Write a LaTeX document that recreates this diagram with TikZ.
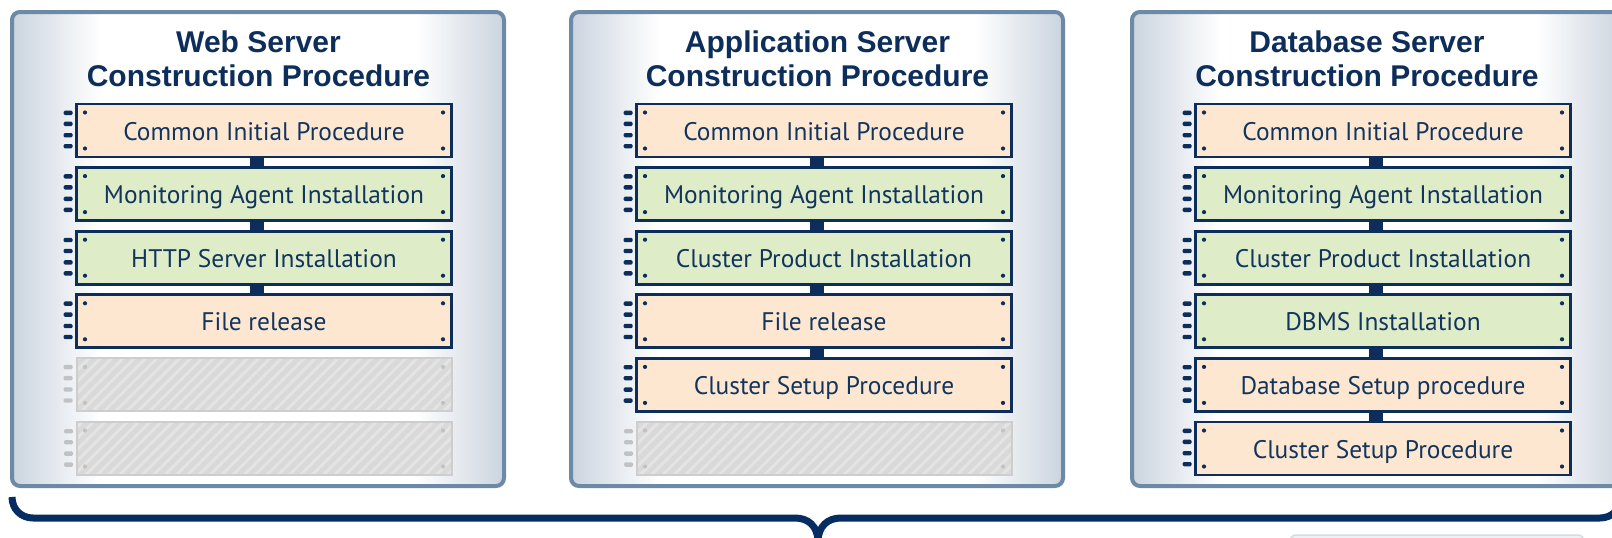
\documentclass[tikz,border=0pt]{standalone}
\usepackage{fontspec}
\setmainfont{PT Sans}
\newfontfamily\headfont{Liberation Sans}
\usetikzlibrary{patterns.meta}

\definecolor{navy}{HTML}{0D2E5A}
\definecolor{textnavy}{HTML}{12355E}
\definecolor{bracenavy}{HTML}{062D62}
\definecolor{panelrim}{HTML}{6C89A5}
\definecolor{paneledge}{HTML}{CBD4DF}
\definecolor{peach}{HTML}{FDE7D1}
\definecolor{sage}{HTML}{DFECC8}
\definecolor{blankfill}{HTML}{D9D9D9}
\definecolor{blankstripe}{HTML}{E4E4E4}
\definecolor{blankrim}{HTML}{CDCDCD}
\definecolor{blankpin}{HTML}{C2C2C2}
\definecolor{tabrim}{HTML}{D3DBE3}
\definecolor{tabfill}{HTML}{EEF2F6}

% panel background: blue-grey at both sides, white in the middle
\pgfdeclarehorizontalshading{panelfade}{100bp}{color(0bp)=(paneledge); color(25bp)=(paneledge); color(34bp)=(white); color(66bp)=(white); color(75bp)=(paneledge); color(100bp)=(paneledge)}

\tikzset{
  panel/.style={draw=panelrim, line width=4pt, rounded corners=8pt, shading=panelfade,
    minimum width=492pt, minimum height=474pt, inner sep=0pt},
  paneltitle/.style={font=\headfont\bfseries\fontsize{30}{34}\selectfont, text=navy,
    align=center, inner sep=0pt},
  corners/.style={path picture={
    \fill[#1] ([shift={(8.5pt,-8.5pt)}]path picture bounding box.north west) circle (2.1pt);
    \fill[#1] ([shift={(-8.5pt,-8.5pt)}]path picture bounding box.north east) circle (2.1pt);
    \fill[#1] ([shift={(8.5pt,8.5pt)}]path picture bounding box.south west) circle (2.1pt);
    \fill[#1] ([shift={(-8.5pt,8.5pt)}]path picture bounding box.south east) circle (2.1pt);}},
  slot/.style={minimum width=375pt, minimum height=53pt, inner sep=0pt,
    font=\fontsize{25.4}{29}\selectfont, text height=19pt, text depth=0pt},
  procbox/.style={slot, draw=navy, line width=2.8pt, fill=#1, text=textnavy, corners=navy},
  blankbox/.style={slot, draw=blankrim, line width=2pt, preaction={fill=blankfill},
    pattern={Lines[angle=45, distance=8pt, line width=3pt]}, pattern color=blankstripe,
    corners=blankpin},
  link/.style={draw=navy, line width=14pt},
  brace/.style={draw=bracenavy, line width=7pt},
}

\begin{document}
\begin{tikzpicture}[x=1pt, y=-1pt]
\useasboundingbox (0,0) rectangle (1612,538);
\clip (0,0) rectangle (1612,538);
\fill[white] (0,0) rectangle (1612,538);

% ---------- panels ----------
\node[panel] (pweb) at (258,249) {};
\node[panel] (papp) at (817,249) {};
\node[panel] (pdb)  at (1378,249) {};

\node[paneltitle] (tweb) at (258.5,59) {Web Server\\Construction Procedure};
\node[paneltitle] (tapp) at (817.5,59) {Application Server\\Construction Procedure};
\node[paneltitle] (tdb)  at (1367,59) {Database Server\\Construction Procedure};

% ---------- web server steps ----------
\node[procbox=peach] (w1) at (264,130.5) {Common Initial Procedure};
\node[procbox=sage]  (w2) at (264,194.1) {Monitoring Agent Installation};
\node[procbox=sage]  (w3) at (264,257.7) {HTTP Server Installation};
\node[procbox=peach] (w4) at (264,321.3) {File release};
\node[blankbox]      (w5) at (264,384.9) {};
\node[blankbox]      (w6) at (264,448.5) {};

% ---------- application server steps ----------
\node[procbox=peach] (a1) at (824,130.5) {Common Initial Procedure};
\node[procbox=sage]  (a2) at (824,194.1) {Monitoring Agent Installation};
\node[procbox=sage]  (a3) at (824,257.7) {Cluster Product Installation};
\node[procbox=peach] (a4) at (824,321.3) {File release};
\node[procbox=peach] (a5) at (824,384.9) {Cluster Setup Procedure};
\node[blankbox]      (a6) at (824,448.5) {};

% ---------- database server steps ----------
\node[procbox=peach] (d1) at (1383,130.5) {Common Initial Procedure};
\node[procbox=sage]  (d2) at (1383,194.1) {Monitoring Agent Installation};
\node[procbox=sage]  (d3) at (1383,257.7) {Cluster Product Installation};
\node[procbox=sage]  (d4) at (1383,321.3) {DBMS Installation};
\node[procbox=peach] (d5) at (1383,384.9) {Database Setup procedure};
\node[procbox=peach] (d6) at (1383,448.5) {Cluster Setup Procedure};

% ---------- side pins ----------
\foreach \n in {w1,w2,w3,w4,a1,a2,a3,a4,a5,d1,d2,d3,d4,d5,d6}
  \foreach \k in {8,19,30.4,41.4}
    \fill[navy, rounded corners=1.3pt] ([shift={(-11.5pt,-\k pt)}]\n.north west) rectangle ++(9pt,-4.4pt);
\foreach \n in {w5,w6,a6}
  \foreach \k in {8,19,30.4,41.4}
    \fill[blankpin, rounded corners=1.3pt] ([shift={(-11.5pt,-\k pt)}]\n.north west) rectangle ++(9pt,-4.4pt);

% ---------- links between consecutive steps ----------
\foreach \u/\v in {w1/w2,w2/w3,w3/w4,a1/a2,a2/a3,a3/a4,a4/a5,d1/d2,d2/d3,d3/d4,d4/d5,d5/d6}
  \draw[link] ([xshift=-7.5pt]\u.south) -- ([xshift=-7.5pt]\v.north);

% ---------- brace under the panels ----------
\draw[brace] (12,497) .. controls (12,509) and (21,518) .. (33,518) -- (795,518)
  .. controls (808,518) and (818,526) .. (818,542);
\draw[brace] (818,542) .. controls (818,526) and (828,518) .. (841,518) -- (1600,518)
  .. controls (1612,518) and (1621,509) .. (1621,497);

% ---------- tab below the brace ----------
\draw[draw=tabrim, fill=tabfill, line width=1.5pt, rounded corners=6pt] (1290,535) rectangle (1584,570);
\end{tikzpicture}
\end{document}
